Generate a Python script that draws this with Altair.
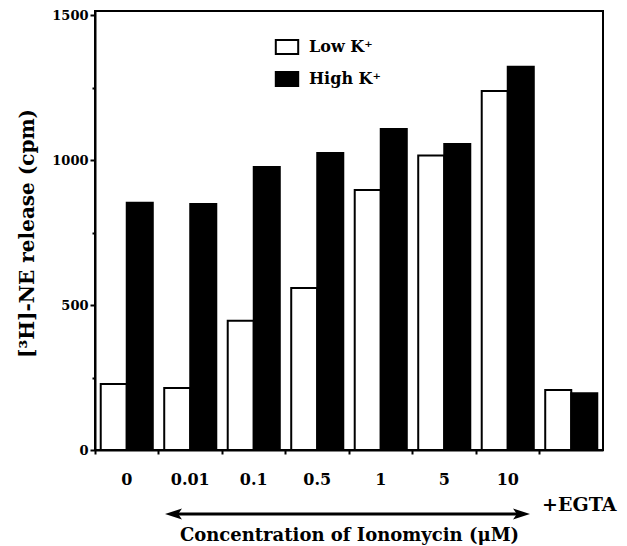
import altair as alt
import pandas as pd

categories = ["0", "0.01", "0.1", "0.5", "1", "5", "10", "+EGTA"]
low_k = [228, 214, 446, 559, 897, 1016, 1238, 207]
high_k = [853, 848, 976, 1024, 1107, 1055, 1322, 196]
series = ["Low K\u207a", "High K\u207a"]
y_ticks = [0, 250, 500, 750, 1000, 1250, 1500]

rows = []
for c, lo, hi in zip(categories, low_k, high_k):
    rows.append({"conc": c, "series": series[0], "value": lo})
    rows.append({"conc": c, "series": series[1], "value": hi})
df = pd.DataFrame(rows)

FONT = "DejaVu Serif"
W, H = 508, 439

x_enc = alt.X(
    "conc:N",
    sort=categories,
    scale=alt.Scale(paddingInner=0, paddingOuter=0),
    axis=alt.Axis(
        title="Concentration of Ionomycin (\u03bcM)",
        bandPosition=0,
        labelAngle=0,
        labelExpr="datum.value == '+EGTA' ? '' : datum.label",
        tickSize=4,
        labelPadding=17,
        labelFontSize=16,
        titleFontSize=18,
        titleY=85,
        titleBaseline="middle",
    ),
)

y_enc = alt.Y(
    "value:Q",
    scale=alt.Scale(domain=[0, 1514], nice=False),
    axis=alt.Axis(
        title="[\u00b3H]-NE release (cpm)",
        values=y_ticks,
        format="d",
        labelExpr="datum.value % 500 == 0 ? datum.label : ''",
        tickSize={"condition": {"test": "datum.value % 500 != 0", "value": 3}, "value": 5},
        labelPadding=2,
        labelFontSize=13,
        titleFontSize=20,
        titleX=-68,
        titleY=222,
        titleAlign="center",
        titleBaseline="middle",
    ),
)

bars = alt.Chart(df).mark_bar(stroke="black", strokeWidth=2).encode(
    x=x_enc,
    xOffset=alt.XOffset("series:N", sort=series,
                        scale=alt.Scale(paddingOuter=0.22, paddingInner=0)),
    y=y_enc,
    fill=alt.Fill(
        "series:N",
        sort=series,
        scale=alt.Scale(domain=series, range=["white", "black"]),
        legend=alt.Legend(
            title=None,
            orient="none",
            legendX=184,
            legendY=28,
            symbolType="M-1.6,-1H1.6V1H-1.6Z",
            symbolSize=196,
            symbolStrokeColor="black",
            symbolStrokeWidth=2,
            labelFont=FONT,
            labelFontWeight="bold",
            labelFontSize=16,
            labelOffset=14,
            rowPadding=10,
        ),
    ),
)

egta = alt.Chart(pd.DataFrame({"conc": ["+EGTA"], "label": ["+EGTA"]})).mark_text(
    font=FONT, fontWeight="bold", fontSize=19, dx=8, color="black"
).encode(x=x_enc, y=alt.value(494), text="label:N")

one = pd.DataFrame({"a": [0]})
arrow_line = alt.Chart(one).mark_rule(color="black", strokeWidth=3).encode(
    x=alt.value(80), x2=alt.value(426), y=alt.value(503)
)
head_shape_left = "M-1,0L1,-0.65L0.55,0L1,0.65Z"
head_shape_right = "M1,0L-1,-0.65L-0.55,0L-1,0.65Z"
arrow_left = alt.Chart(one).mark_point(
    shape=head_shape_left, filled=True, color="black", size=289, opacity=1
).encode(x=alt.value(78.5), y=alt.value(503))
arrow_right = alt.Chart(one).mark_point(
    shape=head_shape_right, filled=True, color="black", size=289, opacity=1
).encode(x=alt.value(426.5), y=alt.value(503))

chart = alt.layer(bars, egta, arrow_line, arrow_left, arrow_right).properties(
    width=W,
    height=H,
    padding={"left": 95, "top": 11, "right": 24, "bottom": 96},
    autosize=alt.AutoSizeParams(type="none"),
    background="white",
).configure_view(
    stroke="black", strokeWidth=2
).configure_axis(
    labelFont=FONT,
    labelFontWeight="bold",
    labelColor="black",
    titleFont=FONT,
    titleFontWeight="bold",
    titleColor="black",
    domainColor="black",
    domainWidth=2,
    tickColor="black",
    tickWidth=2,
    grid=False,
)

chart.save("out.html", embed_options={"renderer": "svg", "actions": False})
